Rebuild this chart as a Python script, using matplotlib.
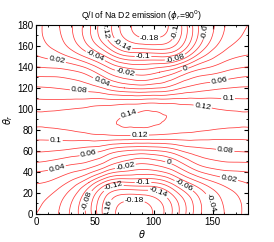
import numpy as np
import matplotlib
matplotlib.use('Agg')
import matplotlib.pyplot as plt
import matplotlib.tri as mtri
from matplotlib.ticker import MultipleLocator

plt.rcParams['font.family'] = ['Liberation Sans', 'DejaVu Sans']

# grid (degrees)
theta = [0, 15, 30, 45, 60, 75, 90, 105, 120, 135, 150, 165, 180]
theta_r = [0, 15, 30, 45, 60, 75, 90, 105, 120, 135, 150, 165, 180]

qi = [
    [0.000, -0.013, -0.044, -0.091, -0.155, -0.192, -0.193, -0.168, -0.125, -0.075, -0.038, -0.012, 0.006],
    [0.006, -0.006, -0.035, -0.085, -0.145, -0.172, -0.172, -0.155, -0.115, -0.070, -0.033, -0.008, 0.006],
    [0.022, 0.015, -0.005, -0.040, -0.088, -0.102, -0.100, -0.095, -0.062, -0.028, -0.003, 0.012, 0.022],
    [0.051, 0.045, 0.035, 0.025, 0.000, -0.020, -0.030, -0.022, 0.000, 0.030, 0.045, 0.050, 0.051],
    [0.082, 0.080, 0.075, 0.068, 0.055, 0.040, 0.035, 0.040, 0.055, 0.070, 0.076, 0.080, 0.082],
    [0.108, 0.109, 0.112, 0.116, 0.119, 0.121, 0.120, 0.118, 0.115, 0.113, 0.110, 0.108, 0.108],
    [0.125, 0.126, 0.128, 0.132, 0.136, 0.1415, 0.145, 0.1415, 0.136, 0.132, 0.128, 0.126, 0.125],
    [0.108, 0.108, 0.110, 0.113, 0.115, 0.118, 0.120, 0.121, 0.119, 0.116, 0.112, 0.109, 0.108],
    [0.082, 0.080, 0.076, 0.070, 0.055, 0.040, 0.035, 0.040, 0.055, 0.068, 0.075, 0.080, 0.082],
    [0.051, 0.050, 0.045, 0.030, 0.000, -0.022, -0.030, -0.020, 0.000, 0.025, 0.035, 0.045, 0.051],
    [0.022, 0.012, -0.003, -0.028, -0.062, -0.095, -0.100, -0.102, -0.088, -0.040, -0.005, 0.015, 0.022],
    [0.006, -0.008, -0.033, -0.070, -0.115, -0.155, -0.172, -0.172, -0.145, -0.085, -0.035, -0.006, 0.006],
    [0.006, -0.012, -0.038, -0.075, -0.125, -0.168, -0.193, -0.192, -0.155, -0.091, -0.044, -0.013, 0.000],
]
levels = [-0.18, -0.16, -0.14, -0.12, -0.1, -0.08, -0.06, -0.04, -0.02, 0,
          0.02, 0.04, 0.06, 0.08, 0.1, 0.12, 0.14]

T, TR = np.meshgrid(theta, theta_r)
Z = np.array(qi)

fig = plt.figure(figsize=(2.74, 2.42), dpi=100)
ax = fig.add_axes([0.131, 0.116, 0.774, 0.781])

# smooth the coarse table with matplotlib's own tri refiner
tri = mtri.Triangulation(T.ravel(), TR.ravel())
refiner = mtri.UniformTriRefiner(tri)
tri_f, z_f = refiner.refine_field(Z.ravel(), subdiv=4)
cs = ax.tricontour(tri_f, z_f, levels=levels, colors='#ff3c3c',
                   linewidths=0.55, linestyles='solid')
ax.clabel(cs, fmt='%g', fontsize=6, inline=True, inline_spacing=1, colors='k')

ax.set_xlim(0, 180)
ax.set_ylim(0, 180)
ax.xaxis.set_major_locator(MultipleLocator(50))
ax.xaxis.set_minor_locator(MultipleLocator(10))
ax.yaxis.set_major_locator(MultipleLocator(20))
ax.yaxis.set_minor_locator(MultipleLocator(10))
ax.tick_params(which='both', direction='in', top=True, right=True, labelsize=7, pad=2)
ax.tick_params(which='major', length=3)
ax.tick_params(which='minor', length=1.5)
for sp in ax.spines.values():
    sp.set_linewidth(0.8)
ax.set_xlabel(r'$\theta$', fontsize=7, labelpad=1)
ax.set_ylabel(r'$\theta_r$', fontsize=7, labelpad=1)
ax.set_title(r'Q/I of Na D2 emission ($\phi_r$=90$^0$)', fontsize=6.2, pad=4)

fig.savefig('out.png', dpi=100)
